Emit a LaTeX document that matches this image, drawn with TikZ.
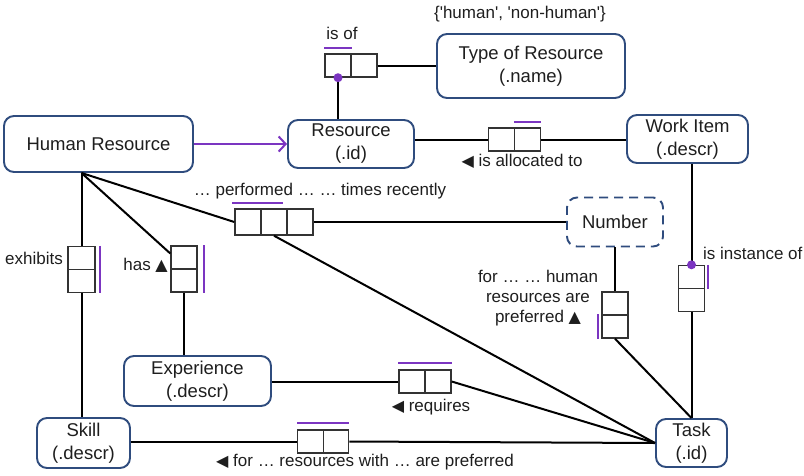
\documentclass[tikz,border=0pt]{standalone}
\usepackage{fontspec}
\setmainfont{Liberation Sans}
\newfontfamily\symf{DejaVu Sans}
\newfontfamily\plainf{Liberation Sans}
\usetikzlibrary{arrows.meta}
\definecolor{navy}{HTML}{2F4C7E}
\definecolor{purp}{HTML}{7B35C1}
\definecolor{ink}{HTML}{1E1E1E}
\newcommand{\ltri}{{\symf\fontsize{16}{16}\selectfont ◀}}
\newcommand{\utri}{{\symf\fontsize{16}{16}\selectfont ▲}}
\begin{document}
\begin{tikzpicture}[x=1pt,y=-1pt,
  ent/.style={draw=navy, line width=1.9pt, rounded corners=10pt, fill=white, align=center,
    text=ink, font=\fontsize{18.5}{23}\selectfont, inner sep=0pt},
  lbl/.style={text=ink, font=\fontsize{17}{20}\selectfont, inner sep=0pt, align=center},
  cell/.style={draw=black!80, line width=1.4pt, fill=white, minimum width=26pt, minimum height=23pt, inner sep=0pt},
  ln/.style={draw=black, line width=2pt},
  bar/.style={draw=purp, line width=2pt},
  dot/.style={fill=purp, draw=none}]
\useasboundingbox (0,0) rectangle (804,475);

% entities
\node[ent, minimum width=189pt, minimum height=56pt] (hr) at (98.5,144) {Human Resource};
\node[ent, minimum width=126pt, minimum height=48pt] (res) at (351,144) {Resource\\(.id)};
\node[ent, minimum width=188pt, minimum height=64pt] (type) at (531,66) {Type of Resource\\(.name)};
\node[ent, minimum width=121pt, minimum height=48pt] (wi) at (687.5,139) {Work Item\\(.descr)};
\node[ent, dashed, dash pattern=on 9pt off 6pt, minimum width=96pt, minimum height=49pt] (num) at (615,222) {Number};
\node[ent, minimum width=147pt, minimum height=50pt] (exp) at (197.5,381) {Experience\\(.descr)};
\node[ent, minimum width=93pt, minimum height=50pt] (sk) at (83.5,443) {Skill\\(.descr)};
\node[ent, minimum width=71pt, minimum height=48pt] (task) at (691.5,443) {Task\\(.id)};

% role boxes
\node[cell] (c1) at (338,65.5) {};
\node[cell] (c2) at (364,65.5) {};
\node[cell] (a1) at (501.5,139.5) {};
\node[cell] (a2) at (527.5,139.5) {};
\node[cell, minimum height=26pt] (p1) at (248,222) {};
\node[cell, minimum height=26pt] (p2) at (274,222) {};
\node[cell, minimum height=26pt] (p3) at (300,222) {};
\node[cell, minimum width=27pt] (e1) at (81.5,258) {};
\node[cell, minimum width=27pt] (e2) at (81.5,281) {};
\node[cell] (h1) at (184,257.5) {};
\node[cell] (h2) at (184,280.5) {};
\node[cell] (r1) at (412,381.5) {};
\node[cell] (r2) at (438,381.5) {};
\node[cell, minimum width=25.5pt] (s1) at (310.5,441.5) {};
\node[cell, minimum width=25.5pt] (s2) at (336,441.5) {};
\node[cell] (i1) at (691.5,277) {};
\node[cell] (i2) at (691.5,300) {};
\node[cell] (n1) at (615,303.5) {};
\node[cell] (n2) at (615,326.5) {};

\coordinate (hrb) at (hr.south -| e1.north);
\coordinate (tt) at (i2.south |- task.north);

% connectors
\draw[ln] (c1.south) -- (c1.south |- res.north);
\draw[ln] (c2.east) -- (type.west |- c2.east);
\draw[ln] (res.east |- a1.west) -- (a1.west);
\draw[ln] (a2.east) -- (wi.west |- a2.east);
\draw[ln] (hrb) -- (p1.west);
\draw[ln] (p3.east) -- (num.west |- p3.east);
\draw[ln] (p2.south) -- (task.west);
\draw[ln] (hrb) -- (e1.north);
\draw[ln] (e2.south) -- (e2.south |- sk.north);
\draw[ln] (hrb) -- ([yshift=4pt]h1.west);
\draw[ln] (h2.south) -- (h2.south |- exp.north);
\draw[ln] (exp.east |- r1.west) -- (r1.west);
\draw[ln] (r2.east) -- (task.west);
\draw[ln] (sk.east |- s1.west) -- (s1.west);
\draw[ln] (s2.east) -- (task.west);
\draw[ln] (i1.north |- wi.south) -- (i1.north);
\draw[ln] (i2.south) -- (tt);
\draw[ln] (n1.north |- num.south) -- (n1.north);
\draw[ln] (n2.south) -- (tt);
\draw[draw=purp, line width=2pt, -{Straight Barb[length=7pt,width=15pt,line width=2pt]}] (hr.east) -- (res.west |- hr.east);

% purple marks
\draw[bar] ([yshift=5pt]c1.north west) -- ([yshift=5pt]c1.north east);
\draw[bar] ([yshift=5pt]a2.north west) -- ([yshift=5pt]a2.north east);
\draw[bar] ([yshift=5pt,xshift=-2pt]p1.north west) -- ([yshift=5pt,xshift=-5pt]p2.north east);
\draw[bar] ([xshift=4pt]e1.north east) -- ([xshift=4pt]e2.south east);
\draw[bar] ([xshift=6pt]h1.north east) -- ([xshift=6pt]h2.south east);
\draw[bar] ([yshift=6pt]r1.north west) -- ([yshift=6pt]r2.north east);
\draw[bar] ([yshift=6pt]s1.north west) -- ([yshift=6pt]s2.north east);
\draw[bar] ([xshift=3pt]i1.north east) -- ([xshift=3pt]i1.south east);
\draw[bar] ([xshift=-3pt]n2.north west) -- ([xshift=-3pt]n2.south west);
\fill[dot] (c1.south) circle (4.5pt);
\fill[dot] (i1.north) circle (4.5pt);

% labels
\node[lbl] (lisof) at (342,33) {is of};
\node[lbl, font=\plainf\fontsize{17}{20}\selectfont] (lset) at (520,14) {\{'human', 'non-human'\}};
\node[lbl] (lalloc) at (522,161) {\ltri\ is allocated to};
\node[lbl] (lperf) at (320,191) {… performed … … times recently};
\node[lbl, anchor=east] (lexh) at (63,258) {exhibits};
\node[lbl, anchor=east] (lhas) at (168,265) {has \utri};
\node[lbl, anchor=west] (linst) at (703,253) {is instance of};
\node[lbl] (lpref) at (538,298) {for … … human\\resources are\\preferred \utri};
\node[lbl] (lreq) at (431,407) {\ltri\ requires};
\node[lbl] (lfor) at (365,462) {\ltri\ for … resources with … are preferred};
\end{tikzpicture}
\end{document}
